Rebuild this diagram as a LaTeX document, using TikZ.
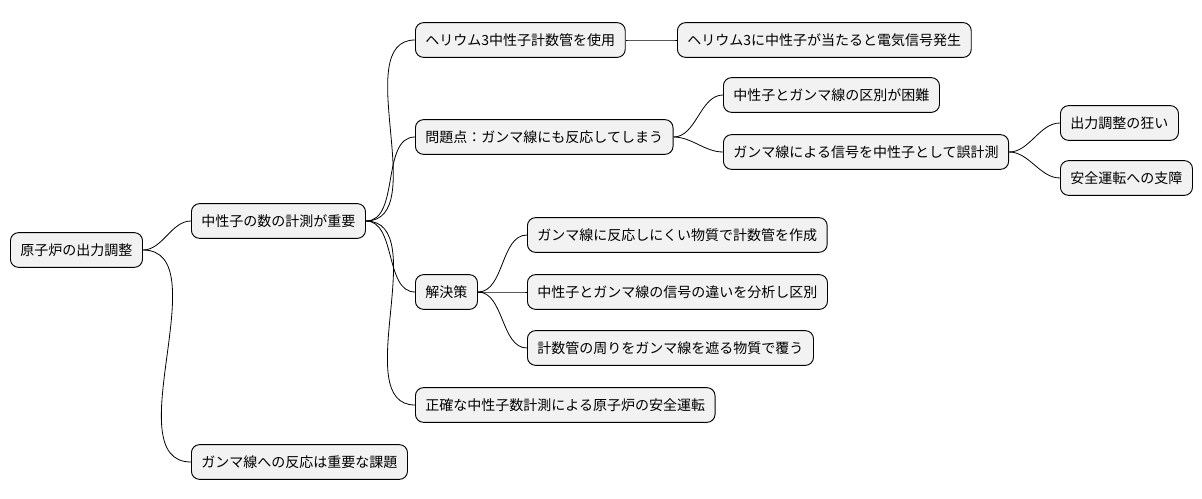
\documentclass[tikz,border=0pt]{standalone}
\usepackage{fontspec}
\setmainfont{Noto Sans CJK JP}
\usetikzlibrary{positioning}
\tikzset{
  topic/.style={draw=black, line width=0.7pt, fill=black!5, rounded corners=6pt,
    anchor=west, inner xsep=7.5pt, minimum height=26pt, font=\fontsize{10.5}{12}\selectfont},
  branch/.style={line width=0.6pt, out=0, in=180, looseness=0.9}
}
\begin{document}
\begin{tikzpicture}[x=0.75pt, y=-0.75pt]
    \useasboundingbox (0,0) rectangle (1202,499);
    % root and first level
    \node[topic] (root) at (10,250) {原子炉の出力調整};
    \node[topic] (count) at (191,221) {中性子の数の計測が重要};
    \node[topic] (issue) at (191,462) {ガンマ線への反応は重要な課題};
    % second level
    \node[topic] (he) at (415,40) {ヘリウム3中性子計数管を使用};
    \node[topic] (prob) at (415,137) {問題点：ガンマ線にも反応してしまう};
    \node[topic] (sol) at (415,292) {解決策};
    \node[topic] (safe) at (415,405) {正確な中性子数計測による原子炉の安全運転};
    % third level
    \node[topic] (sig) at (677,40) {ヘリウム3に中性子が当たると電気信号発生};
    \node[topic] (diff) at (723,95) {中性子とガンマ線の区別が困難};
    \node[topic] (miss) at (723,152) {ガンマ線による信号を中性子として誤計測};
    \node[topic] (mat) at (527,235) {ガンマ線に反応しにくい物質で計数管を作成};
    \node[topic] (ana) at (527,292) {中性子とガンマ線の信号の違いを分析し区別};
    \node[topic] (cov) at (527,348) {計数管の周りをガンマ線を遮る物質で覆う};
    % fourth level
    \node[topic] (out) at (1060,123) {出力調整の狂い};
    \node[topic] (run) at (1060,178) {安全運転への支障};
    % connectors
    \foreach \a/\b in {root/count, root/issue, count/he, count/prob, count/sol, count/safe,
        he/sig, prob/diff, prob/miss, sol/mat, sol/ana, sol/cov, miss/out, miss/run} {
        \draw[branch] (\a.east) to (\b.west);
    }
\end{tikzpicture}
\end{document}
